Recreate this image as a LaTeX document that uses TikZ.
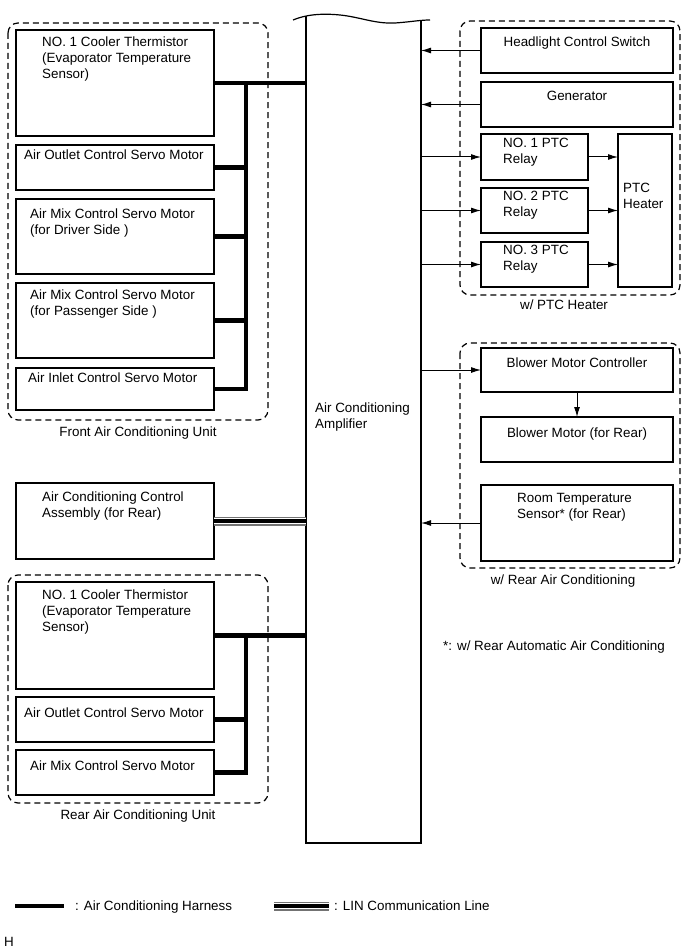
\documentclass[tikz,border=0pt]{standalone}
\usepackage{fontspec}
\setmainfont{Liberation Sans}
\usetikzlibrary{arrows.meta}
\newcommand\dgfont{\fontsize{13.4}{16}\selectfont}
\begin{document}
\begin{tikzpicture}[x=1pt,y=-1pt,
  box/.style={draw, line width=1.4pt, anchor=north west, inner sep=0, outer sep=0},
  dbox/.style={draw, line width=1.2pt, dash pattern=on 6pt off 4pt, rounded corners=10pt},
  txt/.style={anchor=north west, inner sep=0, align=left, font=\dgfont},
  ctxt/.style={anchor=north, inner sep=0, align=center, font=\dgfont},
  arr/.style={draw, line width=1pt, -{Latex[length=10pt,width=6pt]}},
  harn/.style={draw, line width=4.8pt},
  lin/.style={draw=black!55, line width=9pt, postaction={draw=white, line width=6pt}, postaction={draw=black, line width=3.4pt}}]
\useasboundingbox (0,0) rectangle (691,952);
% amplifier
\node[anchor=north west, inner sep=0, outer sep=0, minimum width=115, minimum height=823] (amp) at (306,20) {};
\draw[line width=1.2pt] (293,20) .. controls (305,15) and (320,13) .. (340,15) .. controls (360,17) and (375,24) .. (395,23) .. controls (410,22) and (420,20) .. (430,20);
\draw[line width=1.2pt] (306,16.5) -- (306,843) -- (421,843) -- (421,20.5);
\node[txt] at (315,403) {Air Conditioning\\Amplifier};
% front unit
\draw[dbox] (8,23) rectangle (268,420);
\node[box, minimum width=198, minimum height=106] (f1) at (16,30) {};
\node[box, minimum width=198, minimum height=45] (f2) at (16,145) {};
\node[box, minimum width=198, minimum height=75] (f3) at (16,199) {};
\node[box, minimum width=198, minimum height=75] (f4) at (16,283) {};
\node[box, minimum width=198, minimum height=42] (f5) at (16,368) {};
\node[txt] at (42,37) {NO. 1 Cooler Thermistor\\(Evaporator Temperature\\Sensor)};
\node[txt] at (24,150) {Air Outlet Control Servo Motor};
\node[txt] at (30,209) {Air Mix Control Servo Motor\\(for Driver Side )};
\node[txt] at (30,290) {Air Mix Control Servo Motor\\(for Passenger Side )};
\node[txt] at (28,373) {Air Inlet Control Servo Motor};
\node[ctxt] at (138,427) {Front Air Conditioning Unit};
\coordinate (fb) at (246,0);
\draw[harn] (f1.east) -- (f1.east -| amp.west);
\draw[harn, line join=miter] (f1.east -| fb) -- (f5.east -| fb) -- (f5.east);
\draw[harn] (f2.east) -- (f2.east -| fb);
\draw[harn] (f3.east) -- (f3.east -| fb);
\draw[harn] (f4.east) -- (f4.east -| fb);
% AC control assembly
\node[box, minimum width=198, minimum height=76] (ac) at (16,483) {};
\node[txt] at (42,492) {Air Conditioning Control\\Assembly (for Rear)};
\draw[lin] (ac.east) -- (ac.east -| amp.west);
% rear unit
\draw[dbox] (8,575) rectangle (268,803);
\node[box, minimum width=198, minimum height=107] (r1) at (16,582) {};
\node[box, minimum width=198, minimum height=45] (r2) at (16,697) {};
\node[box, minimum width=198, minimum height=45] (r3) at (16,750) {};
\node[txt] at (42,590) {NO. 1 Cooler Thermistor\\(Evaporator Temperature\\Sensor)};
\node[txt] at (24,708) {Air Outlet Control Servo Motor};
\node[txt] at (30,761) {Air Mix Control Servo Motor};
\node[ctxt] at (138,810) {Rear Air Conditioning Unit};
\draw[harn] (r1.east) -- (r1.east -| amp.west);
\draw[harn, line join=miter] (r1.east -| fb) -- (r3.east -| fb) -- (r3.east);
\draw[harn] (r2.east) -- (r2.east -| fb);
% PTC group
\draw[dbox] (460,21) rectangle (680,295);
\node[box, minimum width=192, minimum height=45] (hl) at (481,28) {};
\node[box, minimum width=192, minimum height=45] (gen) at (481,82) {};
\node[box, minimum width=107, minimum height=46] (p1) at (481,134) {};
\node[box, minimum width=107, minimum height=45] (p2) at (481,188) {};
\node[box, minimum width=107, minimum height=45] (p3) at (481,242) {};
\node[box, minimum width=54, minimum height=153] (heat) at (618,134) {};
\node[ctxt] at (577,37) {Headlight Control Switch};
\node[ctxt] at (577,91) {Generator};
\node[txt] at (503,138) {NO. 1 PTC\\Relay};
\node[txt] at (503,191) {NO. 2 PTC\\Relay};
\node[txt] at (503,245) {NO. 3 PTC\\Relay};
\node[txt] at (623,183) {PTC\\Heater};
\node[ctxt] at (564,300) {w/ PTC Heater};
\draw[arr] (hl.west) -- (hl.west -| amp.east);
\draw[arr] (gen.west) -- (gen.west -| amp.east);
\draw[arr] (p1.west -| amp.east) -- (p1.west);
\draw[arr] (p2.west -| amp.east) -- (p2.west);
\draw[arr] (p3.west -| amp.east) -- (p3.west);
\draw[arr] (p1.east) -- (p1.east -| heat.west);
\draw[arr] (p2.east) -- (p2.east -| heat.west);
\draw[arr] (p3.east) -- (p3.east -| heat.west);
% rear AC group
\draw[dbox] (460,343) rectangle (680,568);
\node[box, minimum width=192, minimum height=44] (bmc) at (481,348) {};
\node[box, minimum width=192, minimum height=45] (bm) at (481,417) {};
\node[box, minimum width=192, minimum height=76] (rts) at (481,485) {};
\node[ctxt] at (577,358) {Blower Motor Controller};
\node[ctxt] at (577,428) {Blower Motor (for Rear)};
\node[txt] at (517,493) {Room Temperature\\Sensor* (for Rear)};
\node[ctxt] at (563,575) {w/ Rear Air Conditioning};
\draw[arr] (bmc.west -| amp.east) -- (bmc.west);
\draw[arr] (bmc.south) -- (bm.north);
\draw[arr] (rts.west) -- (rts.west -| amp.east);
\node[txt] at (443,641) {*: w/ Rear Automatic Air Conditioning};
% legend
\coordinate (la) at (15,906);
\coordinate (lb) at (64,906);
\coordinate (lc) at (274,906);
\coordinate (ld) at (329,906);
\draw[harn] (la) -- (lb);
\draw[lin] (lc) -- (ld);
\node[txt] at (75,901) {: Air Conditioning Harness};
\node[txt] at (334,901) {: LIN Communication Line};
\node[txt] at (4,937) {H};
\end{tikzpicture}
\end{document}
